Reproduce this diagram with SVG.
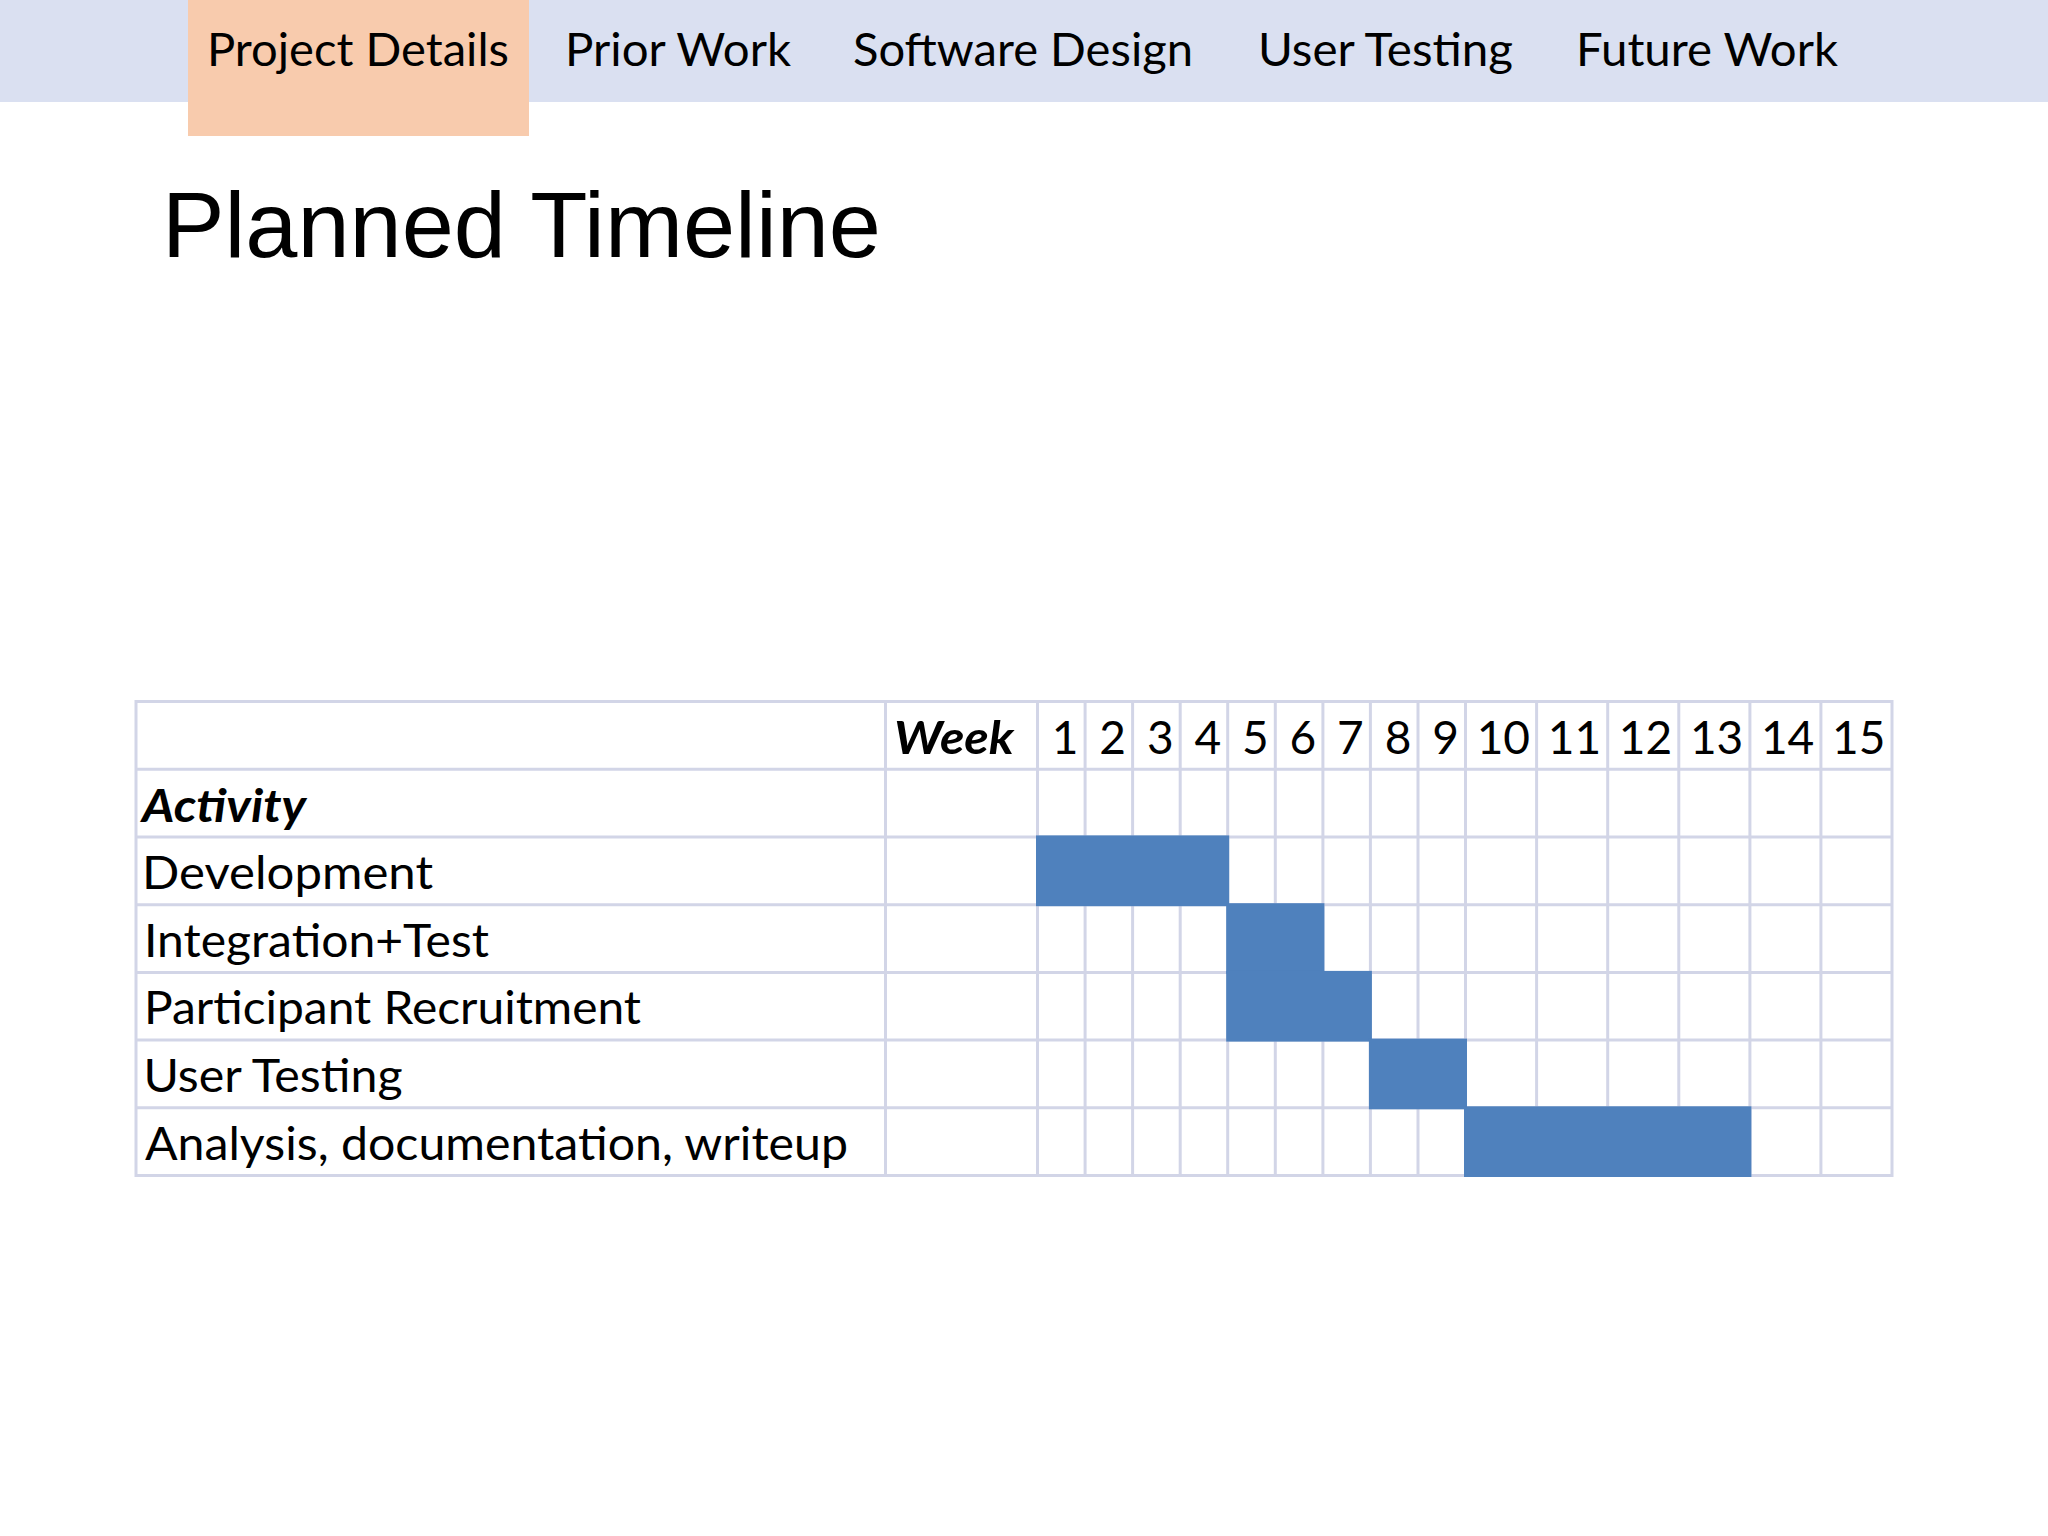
<svg xmlns="http://www.w3.org/2000/svg" width="2048" height="1536" viewBox="0 0 2048 1536">
  <style>
    .nav { font-family: Lato, "Open Sans", sans-serif; font-size: 45.5px; fill: #000; }
    .title { font-family: "Liberation Sans", Arial, sans-serif; font-size: 93px; fill: #000; }
    .cell { font-family: Lato, "Open Sans", sans-serif; font-size: 46px; fill: #000; }
    .hdr { font-weight: 700; font-style: italic; }
    .num { text-anchor: end; }
    .grid line { stroke: #D2D5E7; stroke-width: 3; }
    .bar { fill: #4F81BD; }
  </style>
  <rect x="0" y="0" width="2048" height="1536" fill="#FFFFFF"/>

  <g id="nav">
    <rect x="0" y="0" width="2048" height="102" fill="#DAE0F1"/>
    <rect x="188" y="0" width="341" height="136" fill="#F8CBAD"/>
    <text class="nav" x="207" y="66" textLength="302" lengthAdjust="spacingAndGlyphs">Project Details</text>
    <text class="nav" x="565" y="66" textLength="226" lengthAdjust="spacingAndGlyphs">Prior Work</text>
    <text class="nav" x="853" y="66" textLength="340" lengthAdjust="spacingAndGlyphs">Software Design</text>
    <text class="nav" x="1258" y="66" textLength="255" lengthAdjust="spacingAndGlyphs">User Testing</text>
    <text class="nav" x="1576" y="66" textLength="262" lengthAdjust="spacingAndGlyphs">Future Work</text>
  </g>

  <g id="title">
    <text class="title" x="162" y="257" textLength="719" lengthAdjust="spacingAndGlyphs">Planned Timeline</text>
  </g>

  <g id="table">
    <rect x="136" y="701.5" width="1756" height="474" fill="#FFFFFF"/>
    <g id="grid" class="grid">
      <line x1="136" y1="701.5" x2="1892" y2="701.5"/>
      <line x1="136" y1="769.2" x2="1892" y2="769.2"/>
      <line x1="136" y1="836.9" x2="1892" y2="836.9"/>
      <line x1="136" y1="904.7" x2="1892" y2="904.7"/>
      <line x1="136" y1="972.4" x2="1892" y2="972.4"/>
      <line x1="136" y1="1040.1" x2="1892" y2="1040.1"/>
      <line x1="136" y1="1107.8" x2="1892" y2="1107.8"/>
      <line x1="136" y1="1175.5" x2="1892" y2="1175.5"/>
      <line x1="136" y1="700" x2="136" y2="1177"/>
      <line x1="885.5" y1="701.5" x2="885.5" y2="1175.5"/>
      <line x1="1037.5" y1="701.5" x2="1037.5" y2="1175.5"/>
      <line x1="1085.1" y1="701.5" x2="1085.1" y2="1175.5"/>
      <line x1="1132.6" y1="701.5" x2="1132.6" y2="1175.5"/>
      <line x1="1180.2" y1="701.5" x2="1180.2" y2="1175.5"/>
      <line x1="1227.7" y1="701.5" x2="1227.7" y2="1175.5"/>
      <line x1="1275.3" y1="701.5" x2="1275.3" y2="1175.5"/>
      <line x1="1322.9" y1="701.5" x2="1322.9" y2="1175.5"/>
      <line x1="1370.4" y1="701.5" x2="1370.4" y2="1175.5"/>
      <line x1="1418" y1="701.5" x2="1418" y2="1175.5"/>
      <line x1="1465.5" y1="701.5" x2="1465.5" y2="1175.5"/>
      <line x1="1536.6" y1="701.5" x2="1536.6" y2="1175.5"/>
      <line x1="1607.7" y1="701.5" x2="1607.7" y2="1175.5"/>
      <line x1="1678.8" y1="701.5" x2="1678.8" y2="1175.5"/>
      <line x1="1749.9" y1="701.5" x2="1749.9" y2="1175.5"/>
      <line x1="1820.9" y1="701.5" x2="1820.9" y2="1175.5"/>
      <line x1="1892" y1="700" x2="1892" y2="1177"/>
    </g>

    <g id="bars">
      <rect class="bar" x="1036" y="835.4" width="193.2" height="70.8"/>
      <rect class="bar" x="1226.2" y="903.2" width="98.2" height="70.7"/>
      <rect class="bar" x="1226.2" y="970.9" width="145.7" height="70.7"/>
      <rect class="bar" x="1368.9" y="1038.6" width="98.1" height="70.7"/>
      <rect class="bar" x="1464" y="1106.3" width="287.4" height="70.7"/>
    </g>

    <g id="labels">
      <text class="cell hdr" x="894" y="753.5" textLength="120" lengthAdjust="spacingAndGlyphs">Week</text>
      <text class="cell hdr" x="142" y="821.5" textLength="164" lengthAdjust="spacingAndGlyphs">Activity</text>
      <text class="cell" x="142" y="889" textLength="291" lengthAdjust="spacingAndGlyphs">Development</text>
      <text class="cell" x="144" y="956.7" textLength="345" lengthAdjust="spacingAndGlyphs">Integration+Test</text>
      <text class="cell" x="144" y="1024.4" textLength="497" lengthAdjust="spacingAndGlyphs">Participant Recruitment</text>
      <text class="cell" x="143.5" y="1092.1" textLength="259" lengthAdjust="spacingAndGlyphs">User Testing</text>
      <text class="cell" x="145" y="1160" textLength="703" lengthAdjust="spacingAndGlyphs">Analysis, documentation, writeup</text>
    </g>

    <g id="weeks" class="cell num">
      <text x="1078.5" y="753.5">1</text>
      <text x="1126" y="753.5">2</text>
      <text x="1173.6" y="753.5">3</text>
      <text x="1221.2" y="753.5">4</text>
      <text x="1268.7" y="753.5">5</text>
      <text x="1316.3" y="753.5">6</text>
      <text x="1363.8" y="753.5">7</text>
      <text x="1411.4" y="753.5">8</text>
      <text x="1459" y="753.5">9</text>
      <text x="1530" y="753.5">10</text>
      <text x="1601.1" y="753.5">11</text>
      <text x="1672.2" y="753.5">12</text>
      <text x="1743.3" y="753.5">13</text>
      <text x="1814.3" y="753.5">14</text>
      <text x="1885.4" y="753.5">15</text>
    </g>
  </g>
</svg>
